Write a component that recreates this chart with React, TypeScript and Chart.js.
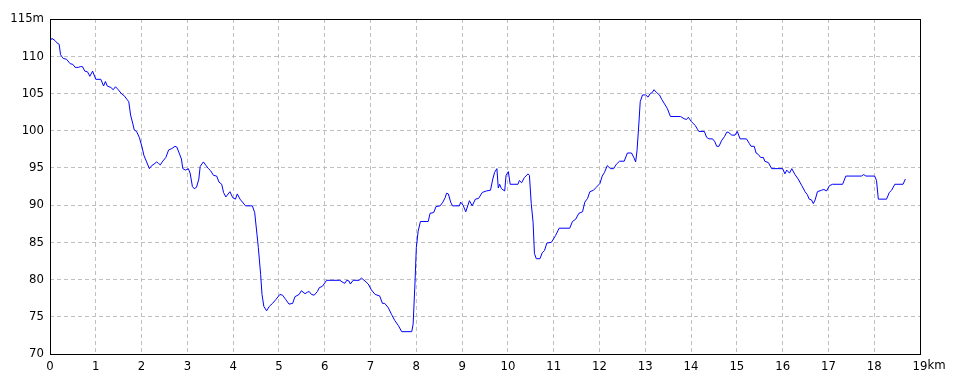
import React, { useEffect, useRef } from "react";
import { Chart, registerables } from "chart.js";

Chart.register(...registerables);

const distanceKm: number[] = [
  0, 0.04, 0.11, 0.15, 0.2, 0.23, 0.29, 0.36, 0.44, 0.5, 0.55, 0.62, 0.66, 0.71, 0.76, 0.82, 0.87, 0.93,
  1.0, 1.11, 1.17, 1.21, 1.25, 1.33, 1.38, 1.43, 1.49, 1.57, 1.62, 1.68, 1.72, 1.76, 1.81, 1.84, 1.89, 1.95,
  2.01, 2.05, 2.11, 2.17, 2.22, 2.27, 2.33, 2.37, 2.41, 2.45, 2.53, 2.59, 2.66, 2.73, 2.77, 2.82, 2.87, 2.9, 2.96,
  3.02, 3.06, 3.11, 3.15, 3.2, 3.25, 3.28, 3.35, 3.41, 3.46, 3.51, 3.57, 3.64, 3.69, 3.75, 3.79, 3.84, 3.93, 3.99,
  4.05, 4.09, 4.15, 4.27, 4.42, 4.47, 4.52, 4.55, 4.6, 4.63, 4.67, 4.73, 4.79, 4.86, 4.93,
  5.02, 5.08, 5.15, 5.22, 5.3, 5.35, 5.44, 5.49, 5.57, 5.62, 5.66, 5.71, 5.77, 5.84, 5.88, 5.95,
  6.04, 6.33, 6.4, 6.44, 6.48, 6.53, 6.56, 6.62, 6.75, 6.8, 6.88, 6.95,
  7.02, 7.1, 7.2, 7.26, 7.31, 7.39, 7.46, 7.53, 7.61, 7.68, 7.9, 7.93, 7.97,
  8.0, 8.04, 8.09, 8.26, 8.3, 8.38, 8.43, 8.52, 8.58, 8.63, 8.66, 8.7, 8.75, 8.79, 8.94, 8.97,
  9.02, 9.08, 9.16, 9.22, 9.29, 9.36, 9.44, 9.53, 9.62, 9.67, 9.71, 9.76, 9.79, 9.82, 9.86, 9.93, 9.96,
  10.01, 10.05, 10.22, 10.25, 10.3, 10.36, 10.44, 10.47, 10.51, 10.55, 10.58, 10.62, 10.7, 10.75, 10.8, 10.85, 10.95,
  11.04, 11.12, 11.35, 11.41, 11.48, 11.55, 11.63, 11.68, 11.74, 11.79, 11.87, 11.93,
  12.01, 12.06, 12.11, 12.17, 12.24, 12.31, 12.37, 12.44, 12.54, 12.61, 12.7, 12.75, 12.79, 12.82, 12.86, 12.89, 12.94,
  13.01, 13.06, 13.11, 13.15, 13.19, 13.25, 13.31, 13.36, 13.41, 13.48, 13.55, 13.77, 13.85, 13.9, 13.94,
  14.01, 14.09, 14.14, 14.17, 14.29, 14.34, 14.39, 14.47, 14.52, 14.56, 14.61, 14.67, 14.73, 14.78, 14.81, 14.89, 14.96,
  15.01, 15.07, 15.21, 15.27, 15.31, 15.38, 15.42, 15.47, 15.52, 15.58, 15.61, 15.69, 15.76,
  16.0, 16.05, 16.09, 16.15, 16.2, 16.27, 16.34, 16.42, 16.49, 16.54, 16.58, 16.63, 16.67, 16.71, 16.76, 16.85, 16.9, 16.96,
  17.02, 17.09, 17.31, 17.38, 17.72, 17.77, 17.82,
  18.01, 18.05, 18.09, 18.27, 18.33, 18.38, 18.45, 18.63, 18.68,
];

const elevationM: number[] = [
  112.0, 112.4, 112.1, 111.8, 111.6, 110.2, 109.7, 109.6, 109.0, 108.9, 108.5, 108.5, 108.6, 108.6, 108.0, 107.9, 107.3, 108.0,
  106.9, 106.9, 106.0, 106.6, 106.0, 105.8, 105.5, 105.9, 105.5, 104.9, 104.7, 104.2, 103.9, 102.1, 100.9, 100.1, 99.9, 99.1,
  97.8, 96.7, 95.8, 94.9, 95.3, 95.5, 95.8, 95.6, 95.4, 95.8, 96.4, 97.4, 97.6, 97.9, 97.8, 97.0, 96.2, 94.9, 94.7,
  94.9, 94.3, 92.5, 92.2, 92.4, 93.5, 95.2, 95.8, 95.3, 94.9, 94.6, 94.0, 93.9, 93.1, 92.8, 91.7, 91.1, 91.8, 91.0,
  90.8, 91.5, 90.8, 89.9, 89.9, 89.0, 86.1, 84.3, 80.7, 78.0, 76.4, 75.8, 76.4, 76.8, 77.3,
  78.0, 77.9, 77.3, 76.7, 76.8, 77.7, 78.0, 78.5, 78.1, 78.3, 78.4, 78.0, 77.9, 78.4, 78.9, 79.1,
  79.9, 79.9, 79.6, 79.5, 79.9, 79.8, 79.4, 79.9, 79.9, 80.2, 79.8, 79.4,
  78.6, 78.0, 77.8, 76.8, 76.8, 76.2, 75.3, 74.5, 73.8, 73.0, 73.0, 74.0, 79.4,
  84.3, 86.5, 87.8, 87.8, 88.9, 89.0, 89.8, 89.9, 90.4, 91.0, 91.6, 91.5, 90.4, 89.9, 89.9, 90.4,
  90.0, 89.1, 90.6, 89.9, 90.8, 90.9, 91.7, 91.9, 92.0, 93.5, 94.4, 94.9, 92.3, 92.8, 92.2, 91.9, 94.0,
  94.5, 92.8, 92.8, 93.3, 93.0, 93.7, 94.2, 94.0, 90.2, 87.7, 83.5, 82.8, 82.8, 83.6, 83.9, 84.9, 85.0,
  85.9, 86.9, 86.9, 87.8, 88.1, 88.9, 89.1, 90.4, 90.9, 91.8, 92.0, 92.4,
  92.9, 93.9, 94.4, 95.3, 94.9, 94.9, 95.5, 95.9, 95.9, 97.0, 97.0, 96.4, 95.8, 97.3, 100.9, 103.9, 104.8,
  104.8, 104.5, 105.0, 105.1, 105.5, 105.1, 104.8, 104.2, 103.7, 103.0, 101.9, 101.9, 101.6, 101.5, 101.8,
  101.2, 100.7, 100.2, 99.9, 99.9, 99.1, 98.9, 98.9, 98.5, 97.9, 97.9, 98.7, 99.2, 99.8, 99.8, 99.4, 99.4,
  99.9, 98.9, 98.9, 98.3, 97.9, 97.9, 97.0, 96.8, 96.4, 96.4, 95.9, 95.7, 94.9,
  94.9, 94.2, 94.7, 94.3, 94.9, 94.1, 93.5, 92.6, 91.8, 91.4, 90.8, 90.7, 90.2, 90.7, 91.8, 92.0, 92.1, 91.9,
  92.6, 92.8, 92.8, 93.9, 93.9, 94.1, 93.9,
  93.9, 93.3, 90.8, 90.8, 91.7, 92.0, 92.8, 92.8, 93.5,
];

const xTicks: number[] = [0, 1, 2, 3, 4, 5, 6, 7, 8, 9, 10, 11, 12, 13, 14, 15, 16, 17, 18, 19];
const yTicks: number[] = [70, 75, 80, 85, 90, 95, 100, 105, 110, 115];
const xUnit = "km";
const yUnit = "m";

const FONT_FAMILY = "'Liberation Sans Narrow', 'DejaVu Sans Condensed', sans-serif";
const FONT_SIZE = 13;

export default function App() {
  const canvasRef = useRef<HTMLCanvasElement | null>(null);

  useEffect(() => {
    document.body.style.margin = "0";
    const canvas = canvasRef.current;
    if (!canvas) return;

    const boxPlugin = {
      id: "boxAndUnits",
      afterDraw(chart: any) {
        const { ctx, chartArea } = chart;
        ctx.save();
        ctx.strokeStyle = "#000000";
        ctx.lineWidth = 1;
        ctx.setLineDash([]);
        ctx.strokeRect(
          Math.round(chartArea.left) + 0.5,
          Math.round(chartArea.top) + 0.5,
          Math.round(chartArea.right - chartArea.left),
          Math.round(chartArea.bottom - chartArea.top)
        );
        // x unit after last tick label
        const xs = chart.scales.x;
        const lastVal = xTicks[xTicks.length - 1];
        const px = xs.getPixelForValue(lastVal);
        ctx.font = `${FONT_SIZE}px ${FONT_FAMILY}`;
        const w = ctx.measureText(String(lastVal)).width;
        ctx.fillStyle = "#000000";
        ctx.textAlign = "left";
        ctx.textBaseline = "top";
        ctx.fillText(xUnit, px + w / 2, chartArea.bottom + 5);
        ctx.restore();
      },
    };

    const chart = new Chart(canvas, {
      type: "scatter",
      data: {
        datasets: [
          {
            data: distanceKm.map((d, i) => ({ x: d, y: elevationM[i] })),
            showLine: true,
            borderColor: "#0000ff",
            backgroundColor: "#0000ff",
            borderWidth: 1,
            pointRadius: 0,
            pointHoverRadius: 0,
            tension: 0,
          },
        ],
      },
      options: {
        animation: false,
        responsive: false,
        maintainAspectRatio: false,
        events: [],
        layout: { padding: { left: 0, right: 40, top: 19, bottom: 0 } },
        plugins: {
          legend: { display: false },
          tooltip: { enabled: false },
          title: { display: false },
        },
        scales: {
          x: {
            type: "linear",
            min: xTicks[0],
            max: xTicks[xTicks.length - 1],
            afterBuildTicks: (s: any) => {
              s.ticks = xTicks.map((v) => ({ value: v }));
            },
            afterFit: (s: any) => {
              s.height = 30;
            },
            ticks: {
              color: "#000000",
              font: { family: FONT_FAMILY, size: FONT_SIZE },
              padding: 5,
              maxRotation: 0,
              autoSkip: false,
              callback: (v: any) => String(v),
            },
            grid: { color: "#c0c0c0", lineWidth: 1, drawTicks: false },
            border: { display: false, dash: [4, 3] },
          },
          y: {
            type: "linear",
            min: yTicks[0],
            max: yTicks[yTicks.length - 1],
            afterBuildTicks: (s: any) => {
              s.ticks = yTicks.map((v) => ({ value: v }));
            },
            afterFit: (s: any) => {
              s.width = 50;
            },
            ticks: {
              color: "#000000",
              font: { family: FONT_FAMILY, size: FONT_SIZE },
              padding: 6,
              autoSkip: false,
              callback: (v: any) => (v === yTicks[yTicks.length - 1] ? `${v}${yUnit}` : String(v)),
            },
            grid: { color: "#c0c0c0", lineWidth: 1, drawTicks: false },
            border: { display: false, dash: [4, 3] },
          },
        },
      },
      plugins: [boxPlugin],
    });

    return () => {
      chart.destroy();
    };
  }, []);

  return (
    <div style={{ width: 960, height: 384, background: "#ffffff" }}>
      <canvas ref={canvasRef} width={960} height={384} style={{ display: "block", width: 960, height: 384 }} />
    </div>
  );
}
